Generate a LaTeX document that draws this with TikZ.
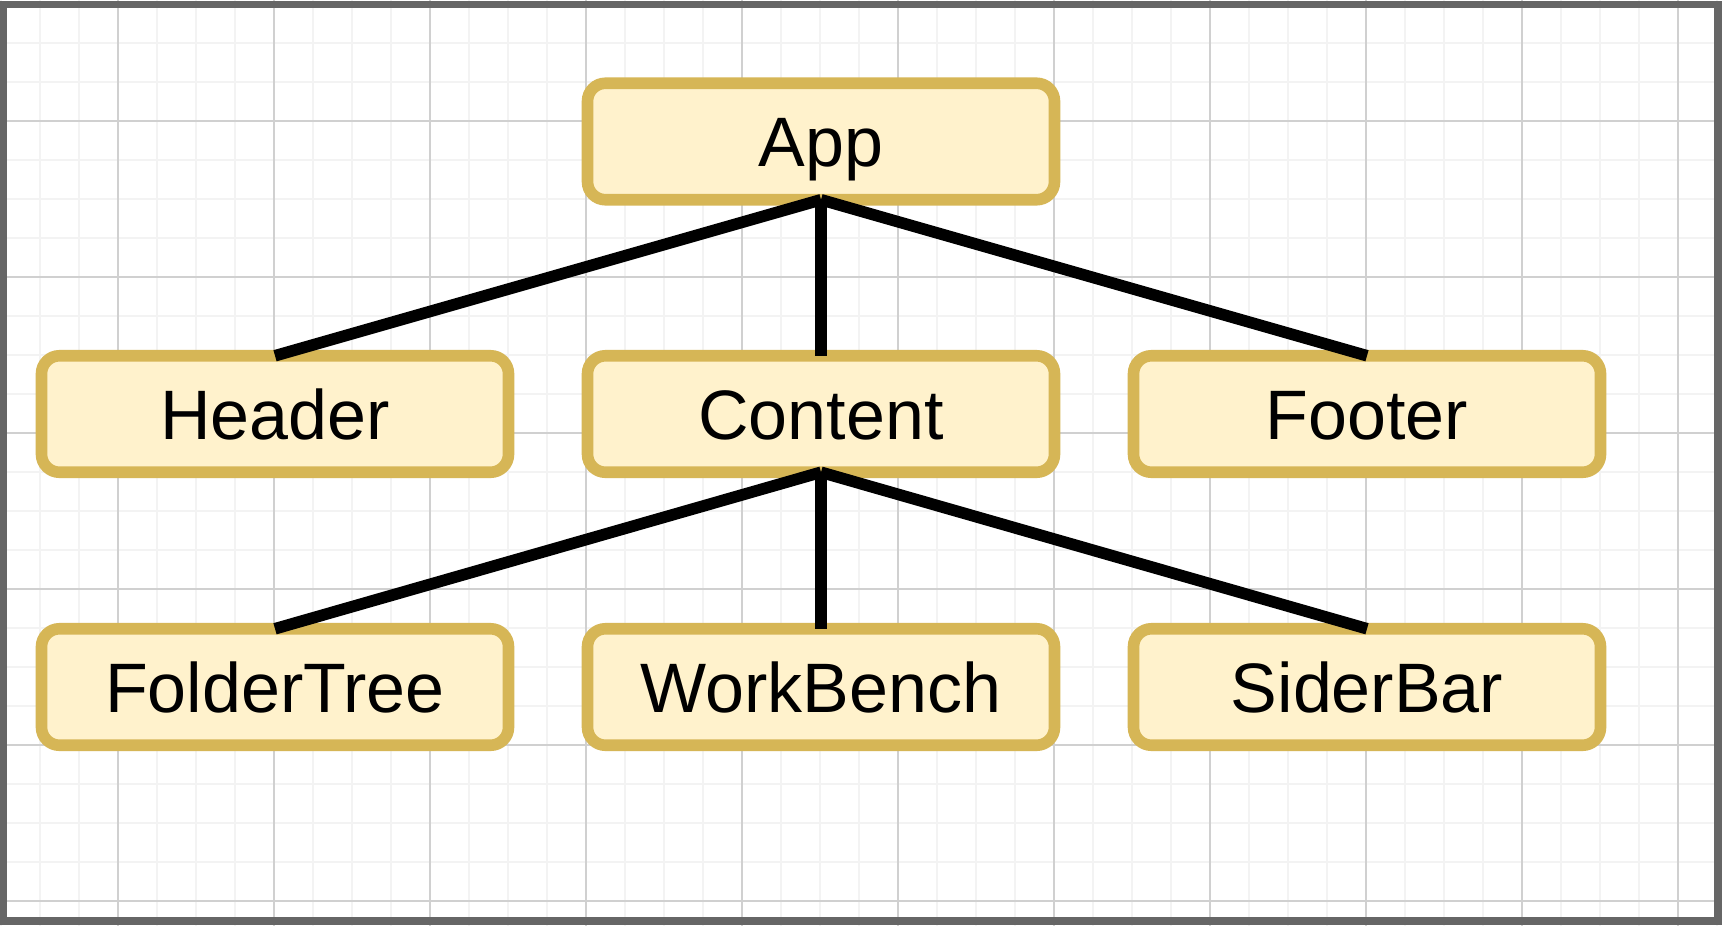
\documentclass[tikz,border=0pt]{standalone}
\usepackage{fontspec}
\setmainfont{Liberation Sans}
\definecolor{boxfill}{HTML}{FFF2CC}
\definecolor{boxline}{HTML}{D6B656}
\definecolor{minorgrid}{HTML}{F3F3F3}
\definecolor{majorgrid}{HTML}{D0D0D0}
\definecolor{frameline}{HTML}{666666}
\tikzset{
  comp/.style={draw=boxline, fill=boxfill, line width=5.8pt, rounded corners=9pt,
    minimum width=233.5pt, minimum height=58.25pt, inner sep=0pt, outer sep=0pt,
    text height=25pt, text depth=0pt, font=\fontsize{35}{42}\selectfont},
  link/.style={draw=black, line width=5.8pt},
  minorline/.style={draw=minorgrid, line width=0.6pt},
  majorline/.style={draw=majorgrid, line width=0.6pt},
}
\begin{document}
\begin{tikzpicture}[x=0.5pt,y=-0.5pt]
\useasboundingbox (0,0) rectangle (1722,926);
\fill[white] (0,0) rectangle (1722,926);
% grid
\foreach \k in {0,...,44} {\draw[minorline] ({1+39*\k},0) -- ({1+39*\k},926);}
\foreach \k in {0,...,23} {\draw[minorline] (0,{4+39*\k}) -- (1722,{4+39*\k});}
\foreach \k in {0,...,10} {\draw[majorline] ({118+156*\k},0) -- ({118+156*\k},926);}
\foreach \k in {0,...,5} {\draw[majorline] (0,{121+156*\k}) -- (1722,{121+156*\k});}
\draw[majorline] (0,-35) -- (1722,-35);
% frame
\draw[draw=frameline, line width=3.75pt] (3,4.5) rectangle (1718,921);
% boxes
\node[comp] (app) at (821,141.5) {App};
\node[comp] (header) at (275,414) {Header};
\node[comp] (content) at (821,414) {Content};
\node[comp] (footer) at (1367,414) {Footer};
\node[comp] (folder) at (275,687) {FolderTree};
\node[comp] (work) at (821,687) {WorkBench};
\node[comp] (sider) at (1367,687) {SiderBar};
% connectors
\draw[link] (app.south) -- (header.north);
\draw[link] (app.south) -- (content.north);
\draw[link] (app.south) -- (footer.north);
\draw[link] (content.south) -- (folder.north);
\draw[link] (content.south) -- (work.north);
\draw[link] (content.south) -- (sider.north);
\end{tikzpicture}
\end{document}
